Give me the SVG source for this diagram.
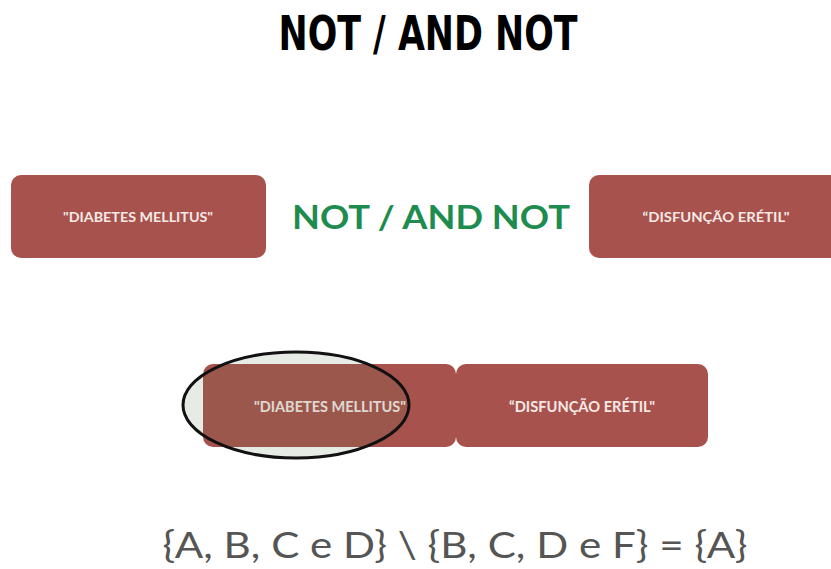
<svg xmlns="http://www.w3.org/2000/svg" width="831" height="569" viewBox="0 0 831 569">
<style>
.box{fill:#a7524c;}
.lbl{font-family:Lato,"Open Sans","Liberation Sans",sans-serif;font-weight:bold;fill:#f6e9e6;text-anchor:middle;dominant-baseline:central;}
.s{font-size:13.5px;}
.b{font-size:15px;}
</style>
<rect width="831" height="569" fill="#ffffff"/>
<text id="title" x="428" y="50" font-family="'DejaVu Sans',sans-serif" font-weight="bold" font-size="48" text-anchor="middle" textLength="299" lengthAdjust="spacingAndGlyphs" fill="#000">NOT / AND NOT</text>
<g id="node-dm-top">
<rect class="box" x="11" y="175" width="255" height="83" rx="10"/>
<text class="lbl s" x="138" y="217" textLength="150" lengthAdjust="spacingAndGlyphs">"DIABETES MELLITUS"</text>
</g>
<text id="op" x="431" y="216" font-family="Lato,'Open Sans',sans-serif" font-weight="bold" font-size="33" fill="#1e8c4e" text-anchor="middle" dominant-baseline="central" textLength="278" lengthAdjust="spacingAndGlyphs">NOT / AND NOT</text>
<g id="node-de-top">
<rect class="box" x="589" y="175" width="260" height="83" rx="10"/>
<text class="lbl s" x="716" y="217" textLength="147" lengthAdjust="spacingAndGlyphs">“DISFUNÇÃO ERÉTIL"</text>
</g>
<g id="node-dm-bottom">
<rect class="box" x="203" y="364" width="253" height="83" rx="10"/>
<text class="lbl b" x="330" y="406" textLength="152" lengthAdjust="spacingAndGlyphs">"DIABETES MELLITUS"</text>
</g>
<g id="node-de-bottom">
<rect class="box" x="456" y="364" width="252" height="83" rx="10"/>
<text class="lbl b" x="582" y="406" textLength="146" lengthAdjust="spacingAndGlyphs">“DISFUNÇÃO ERÉTIL"</text>
</g>
<g id="connectors"></g>
<ellipse id="highlight" cx="296" cy="405" rx="113" ry="53" fill="#5f7a5a" fill-opacity="0.15" stroke="#111" stroke-width="3"/>
<text id="formula" x="455" y="558" font-family="Lato,'Open Sans',sans-serif" font-size="37" fill="#555555" text-anchor="middle" textLength="585" lengthAdjust="spacingAndGlyphs">{A, B, C e D} \ {B, C, D e F} = {A}</text>
</svg>
